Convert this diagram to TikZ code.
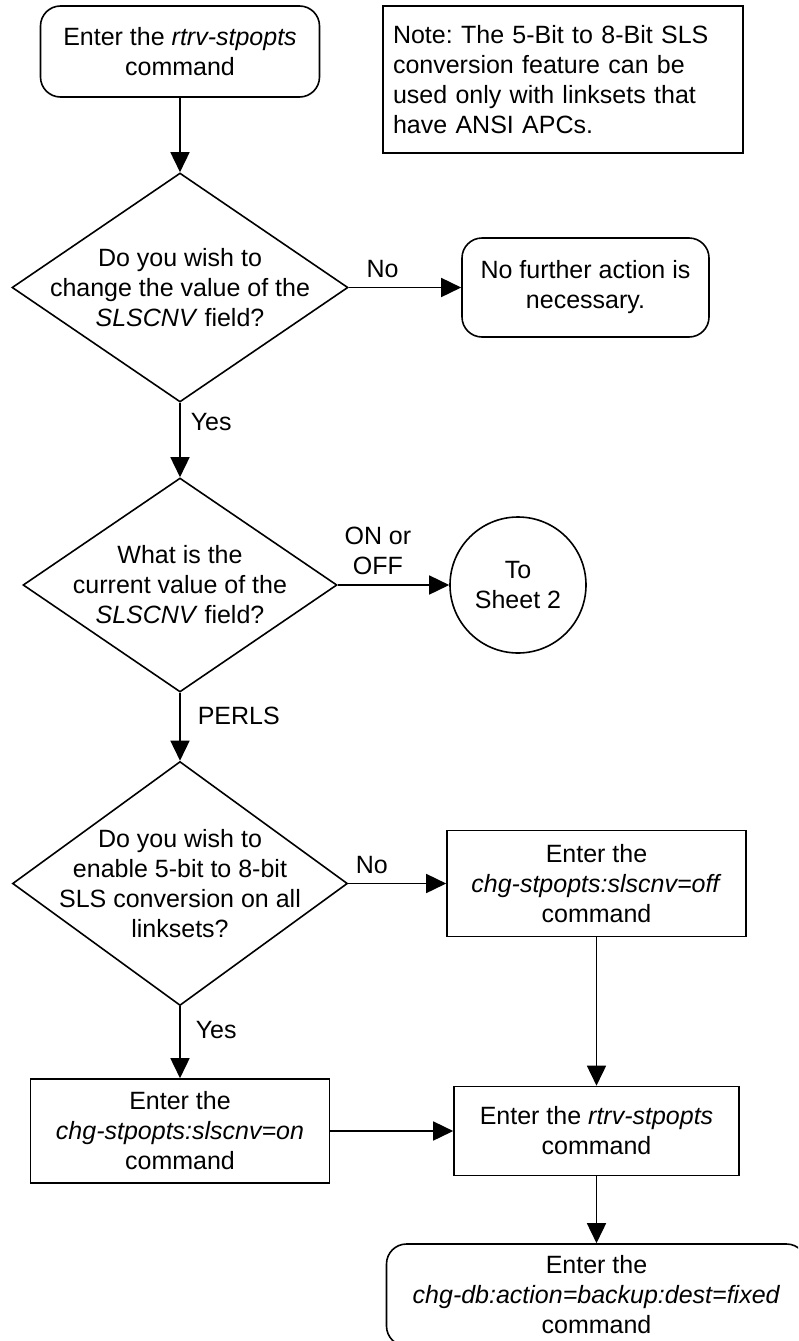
\documentclass[tikz,border=0pt]{standalone}
\usepackage{fontspec}
\setmainfont{Liberation Sans}
\usetikzlibrary{arrows.meta,shapes.geometric}
\frenchspacing

\begin{document}
\begin{tikzpicture}[x=1pt,y=-1pt,>={Triangle[length=20pt,width=19pt]},line width=1.6pt,
  font=\fontsize{25}{30}\selectfont,
  box/.style={draw,rectangle,align=center,inner sep=0pt},
  rbox/.style={box,rounded corners=20pt},
  dia/.style={draw,diamond,inner sep=0pt},
  lbl/.style={inner sep=0pt}]
\useasboundingbox (0,0) rectangle (798,1341);
\clip (0,0) rectangle (798,1341);
\node[rbox,minimum width=279pt,minimum height=91pt] (start) at (180,51.5) {Enter the \textit{rtrv-stpopts}\\command};
\node[box,minimum height=147pt,text width=340pt,inner xsep=10pt,align=left] (note) at (563,79.5) {Note: The 5-Bit to 8-Bit SLS conversion feature can be used only with linksets that have ANSI APCs.};
\node[dia,minimum width=336pt,minimum height=229pt] (q1) at (180,287.5) {};
\node[align=center] (q1t) at (q1) {Do you wish to\\change the value of the\\\textit{SLSCNV} field?};
\node[rbox,minimum width=247pt,minimum height=99pt] (nf) at (585.5,287.5) {No further action is\\necessary.};
\node[dia,minimum width=314pt,minimum height=214pt] (q2) at (180,585) {};
\node[align=center] (q2t) at (q2) {What is the\\current value of the\\\textit{SLSCNV} field?};
\node[draw,circle,minimum size=136pt,inner sep=0pt,align=center] (s2) at (518,585) {To\\Sheet 2};
\node[dia,minimum width=335pt,minimum height=244pt] (q3) at (180,883.5) {};
\node[align=center] (q3t) at (q3) {Do you wish to\\enable 5-bit to 8-bit\\SLS conversion on all\\linksets?};
\node[box,minimum width=299pt,minimum height=106pt] (off) at (596.5,883.5) {Enter the\\\textit{chg-stpopts:slscnv=off}\\command};
\node[box,minimum width=299pt,minimum height=104pt] (on) at (180,1131) {Enter the\\\textit{chg-stpopts:slscnv=on}\\command};
\node[box,minimum width=285pt,minimum height=89pt] (rtrv) at (596.5,1131) {Enter the \textit{rtrv-stpopts}\\command};
\node[rbox,minimum width=420pt,minimum height=102pt] (bkp) at (596.5,1295) {Enter the\\\textit{chg-db:action=backup:dest=fixed}\\command};
\draw[->] (start) -- (q1);
\draw[->] (q1) -- node[lbl,above=9pt,pos=0.3]{No} (nf);
\draw[->] (q1) -- node[lbl,right=10pt,pos=0.26]{Yes} (q2);
\draw[->] (q2) -- node[lbl,above=9pt,pos=0.36,align=center]{ON or\\OFF} (s2);
\draw[->] (q2) -- node[lbl,right=17pt,pos=0.34]{PERLS} (q3);
\draw[->] (q3) -- node[lbl,above=9pt,pos=0.24]{No} (off);
\draw[->] (q3) -- node[lbl,right=15pt,pos=0.33]{Yes} (on);
\draw[->] (off) -- (rtrv);
\draw[->] (on) -- (rtrv);
\draw[->] (rtrv) -- (bkp);
\end{tikzpicture}
\end{document}
